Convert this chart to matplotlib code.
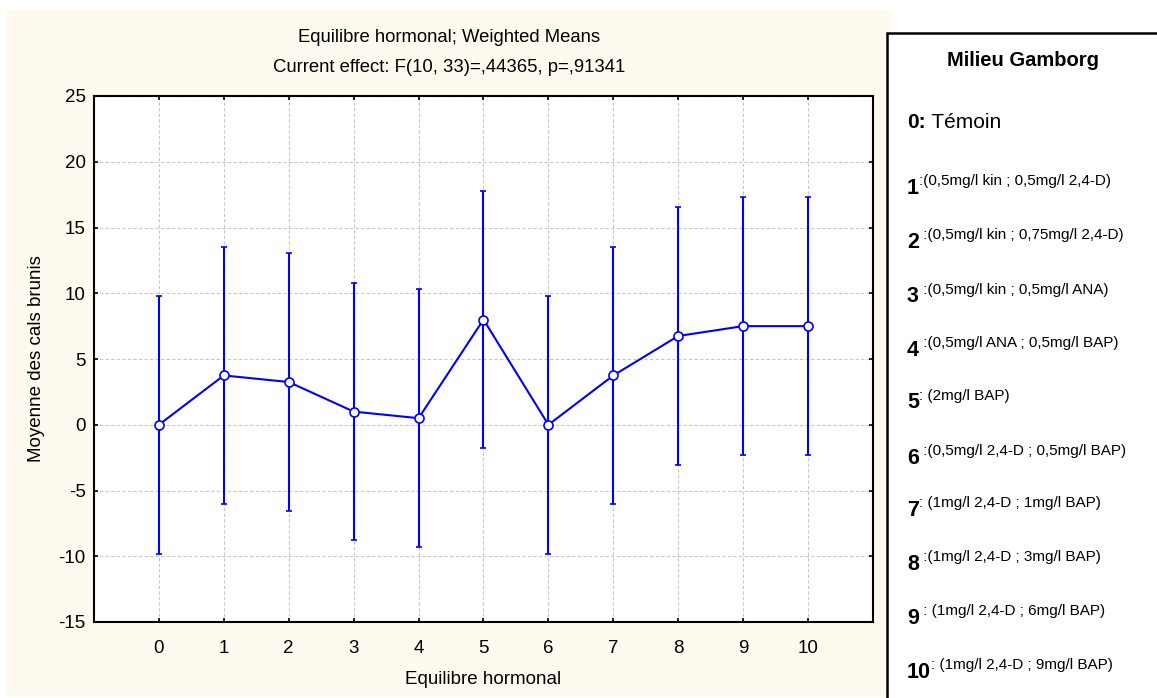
import matplotlib
matplotlib.use("Agg")
import matplotlib.pyplot as plt
from matplotlib.patches import Rectangle

plt.rcParams["font.family"] = ["Liberation Sans", "DejaVu Sans"]
plt.rcParams["axes.unicode_minus"] = False

# data
groups = [0, 1, 2, 3, 4, 5, 6, 7, 8, 9, 10]
means = [0.0, 3.75, 3.25, 1.0, 0.5, 8.0, 0.0, 3.75, 6.75, 7.5, 7.5]
ci_half = [9.8, 9.8, 9.8, 9.8, 9.8, 9.8, 9.8, 9.8, 9.8, 9.8, 9.8]
y_ticks = [-15, -10, -5, 0, 5, 10, 15, 20, 25]

title_lines = ["Equilibre hormonal; Weighted Means",
               "Current effect: F(10, 33)=,44365, p=,91341"]
x_label = "Equilibre hormonal"
y_label = "Moyenne des cals brunis"

legend_title = "Milieu Gamborg"
legend_nums = ["1", "2", "3", "4", "5", "6", "7", "8", "9", "10"]
legend_desc = [
    ":(0,5mg/l kin ; 0,5mg/l 2,4-D)",
    " :(0,5mg/l kin ; 0,75mg/l 2,4-D)",
    " :(0,5mg/l kin ; 0,5mg/l ANA)",
    " :(0,5mg/l ANA ; 0,5mg/l BAP)",
    ": (2mg/l BAP)",
    " :(0,5mg/l 2,4-D ; 0,5mg/l BAP)",
    ": (1mg/l 2,4-D ; 1mg/l BAP)",
    " :(1mg/l 2,4-D ; 3mg/l BAP)",
    " : (1mg/l 2,4-D ; 6mg/l BAP)",
    ": (1mg/l 2,4-D ; 9mg/l BAP)",
]

W, H = 1157, 698
fig = plt.figure(figsize=(W / 100, H / 100), dpi=100)
fig.patch.set_facecolor("white")

# cream panel behind the graph
fig.patches.append(Rectangle((7 / W, 1 - 697 / H), 885 / W, 687 / H,
                             transform=fig.transFigure, facecolor="#fffaf0",
                             edgecolor="none", zorder=-2))
# legend box
fig.patches.append(Rectangle((887 / W, -0.05), 0.3, 1.05 - 33 / H,
                             transform=fig.transFigure, facecolor="white",
                             edgecolor="black", linewidth=1.8, zorder=-1))

ax = fig.add_axes([94 / W, 1 - 622 / H, (873 - 94) / W, (622 - 96) / H])
ax.set_facecolor("white")

ax.errorbar(groups, means, yerr=ci_half, color="#0000ff", lw=1.5,
            elinewidth=1.5, capsize=2.5, capthick=1.5,
            marker="o", markersize=6.5, markerfacecolor="white",
            markeredgecolor="#0000ff", markeredgewidth=1.2, zorder=3)

ax.set_xlim(-1, 11)
ax.set_ylim(-15, 25)
ax.set_xticks(groups)
ax.set_yticks(y_ticks)
ax.tick_params(direction="in", length=3, width=1.2, top=True, right=True,
               labelsize=13.5)
ax.tick_params(axis="x", pad=13)
ax.tick_params(axis="y", pad=6)
ax.grid(True, color="#c8c8c8", linestyle=(0, (3, 2)), linewidth=0.8)
ax.set_axisbelow(True)
for s in ax.spines.values():
    s.set_linewidth(1.5)

ax.set_xlabel(x_label, fontsize=13.5, labelpad=10)
ax.set_ylabel(y_label, fontsize=13.5, labelpad=10)

cx = (7 + 892) / 2 / W
fig.text(cx, 1 - 37 / H, title_lines[0], ha="center", va="center", fontsize=13.3)
fig.text(cx, 1 - 67 / H, title_lines[1], ha="center", va="center", fontsize=13.3)

# legend text
fig.text(1023 / W, 1 - 60 / H, legend_title, ha="center", va="center",
         fontsize=14.5, fontweight="bold")
t0 = fig.text(907 / W, 1 - 122 / H, "0:", ha="left", va="center",
              fontsize=15, fontweight="bold")
ax.annotate(" Témoin", xy=(1, 0.5), xycoords=t0, va="center", ha="left",
            fontsize=15, annotation_clip=False)

rows_y = [188, 242, 297, 350, 403, 458, 510, 564, 618, 672]
for num, desc, yp in zip(legend_nums, legend_desc, rows_y):
    tn = fig.text(907 / W, 1 - yp / H, num, ha="left", va="center",
                  fontsize=15.5, fontweight="bold")
    ax.annotate(desc, xy=(1, 0.82), xycoords=tn, va="center", ha="left",
                fontsize=11, annotation_clip=False)

fig.savefig("out.png", dpi=100, facecolor=fig.get_facecolor())
